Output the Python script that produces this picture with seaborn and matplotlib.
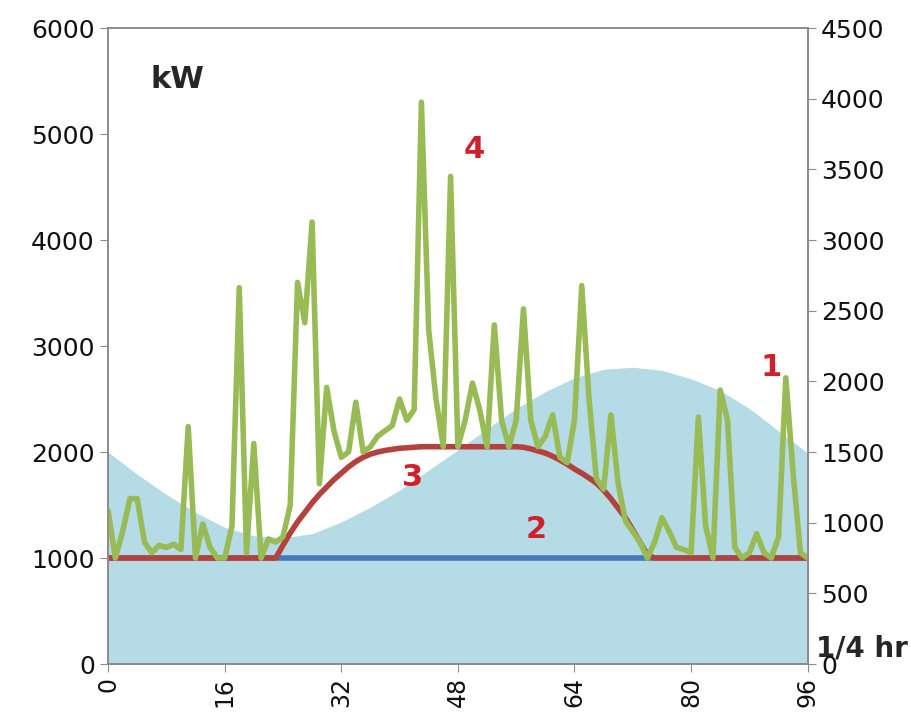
import numpy as np
import pandas as pd
import matplotlib
matplotlib.use("Agg")
import matplotlib.pyplot as plt
import seaborn as sns

# quarter-hour index 0..96
quarter = list(range(97))

# green: raw PV / load fluctuation (kW)
green_kw = [1450, 1000, 1250, 1560, 1560, 1150, 1050, 1120, 1100, 1130,
            1080, 2240, 1000, 1320, 1100, 1000, 1000, 1300, 3550, 1050,
            2080, 1000, 1180, 1150, 1200, 1500, 3600, 3220, 4170, 1700,
            2610, 2200, 1950, 2000, 2470, 2000, 2050, 2150, 2200, 2250,
            2500, 2300, 2400, 5300, 3150, 2500, 2050, 4600, 2050, 2300,
            2650, 2400, 2050, 3200, 2300, 2050, 2300, 3350, 2300, 2050,
            2150, 2350, 1950, 1900, 2300, 3570, 2500, 1750, 1650, 2350,
            1700, 1350, 1250, 1150, 1000, 1150, 1380, 1250, 1100, 1080,
            1050, 2330, 1300, 1000, 2585, 2300, 1100, 1000, 1050, 1230,
            1050, 1000, 1200, 2700, 1800, 1050, 1000]

# light blue: base demand profile (kW), every 4 quarters
area_x = [0, 4, 8, 12, 16, 20, 24, 28, 32, 36, 40, 44, 48,
          52, 56, 60, 64, 68, 72, 76, 80, 84, 88, 92, 96]
area_kw = [2000, 1790, 1600, 1430, 1290, 1210, 1190, 1230, 1340, 1480, 1640, 1830, 2020,
           2220, 2410, 2570, 2700, 2780, 2800, 2770, 2690, 2580, 2410, 2200, 1990]

# blue: constant contract level
blue_x = [0, 96]
blue_kw = [1000, 1000]

# red: smoothed output
red_x = [0, 23, 24, 25, 26, 27, 28, 29, 30, 31, 32, 33, 34, 35, 36, 37, 38, 39, 40,
         41, 42, 43, 56, 57, 58, 59, 60, 61, 62, 63, 64, 65, 66, 67, 68, 69, 70,
         71, 72, 73, 74, 75, 96]
red_kw = [1000, 1000, 1120, 1236, 1340, 1430, 1520, 1600, 1670, 1740, 1800, 1860,
          1910, 1950, 1980, 2000, 2015, 2025, 2035, 2040, 2045, 2050, 2050, 2045,
          2030, 2010, 1990, 1960, 1925, 1885, 1840, 1800, 1755, 1707, 1640, 1560,
          1470, 1380, 1264, 1150, 1030, 1000, 1000]

labels = ["1", "2", "3", "4"]
label_x = [91, 58.8, 41.8, 50.3]
label_y = [2800, 1265, 1755, 4850]

sns.set_style("white")
plt.rcParams['font.family'] = ['DejaVu Sans']

fig = plt.figure(figsize=(9.11, 7.15), dpi=100)
ax = fig.add_axes([0.1186, 0.0713, 0.768, 0.8895])

ax.fill_between(area_x, area_kw, 0, color='#b4dbe6', linewidth=0, zorder=1)
sns.lineplot(x=blue_x, y=blue_kw, color='#4679b8', linewidth=4, ax=ax, zorder=2)
sns.lineplot(x=red_x, y=red_kw, color='#b3423f', linewidth=4, ax=ax, zorder=3)
df = pd.DataFrame({'q': quarter, 'kw': green_kw})
sns.lineplot(data=df, x='q', y='kw', color='#98bb55', linewidth=4, ax=ax, zorder=4,
             solid_joinstyle='round', solid_capstyle='round')

ax.set_xlim(0, 96)
ax.set_ylim(0, 6000)
ax.set_xticks(range(0, 97, 16))
ax.set_yticks(range(0, 6001, 1000))
ax.set_xlabel("")
ax.set_ylabel("")
ax.tick_params(axis='x', labelsize=17, rotation=90, direction='out', length=6,
               color='#8c8c8c', labelcolor='#111111', bottom=True)
ax.tick_params(axis='y', labelsize=18, direction='out', length=6,
               color='#8c8c8c', labelcolor='#111111', left=True)

ax2 = ax.twinx()
ax2.set_ylim(0, 4500)
ax2.set_yticks(range(0, 4501, 500))
ax2.tick_params(axis='y', labelsize=18, direction='out', length=6,
                color='#8c8c8c', labelcolor='#111111', right=True)
ax2.grid(False)

for a in (ax, ax2):
    for s in a.spines.values():
        s.set_color('#8c8c8c')
        s.set_linewidth(1.3)
ax.spines['top'].set_color('#9aa7b5')

ax.text(5.8, 5510, "kW", fontsize=22, fontweight='bold', ha='left', va='center')
for lab, lx, ly in zip(labels, label_x, label_y):
    ax.text(lx, ly, lab, fontsize=22, fontweight='bold', color='#d0202a',
            ha='center', va='center', zorder=5)
ax.text(103.5, 150, "1/4 hr", fontsize=20, fontweight='bold', ha='center', va='center',
        clip_on=False, zorder=6)

fig.savefig("out.png", dpi=100)
